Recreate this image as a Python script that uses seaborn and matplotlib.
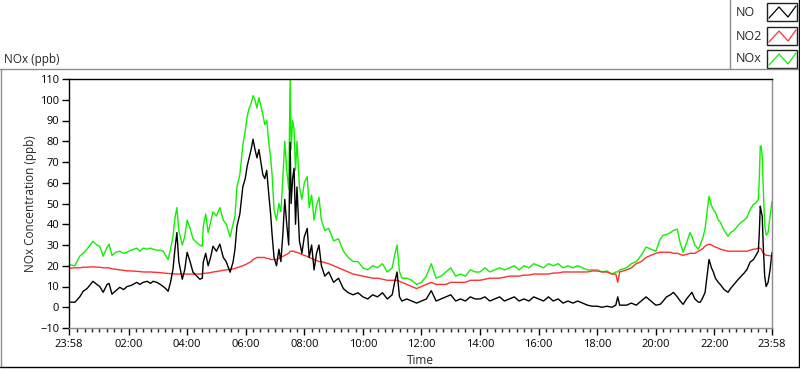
import pandas as pd
import seaborn as sns
import matplotlib.pyplot as plt
import matplotlib.dates as mdates
from matplotlib.lines import Line2D
from matplotlib.patches import Rectangle

# %% data (clock time, ppb) ────────────────────────────────────────────────
times = [
    "23:58", "00:10", "00:20", "00:27", "00:35", "00:47", "00:55",
    "01:01", "01:08", "01:16", "01:20", "01:26", "01:34", "01:42", "01:50", "01:57",
    "02:05", "02:17", "02:23", "02:30", "02:38", "02:45", "02:50", "02:58",
    "03:05", "03:11", "03:16", "03:21", "03:26", "03:31", "03:35", "03:39", "03:43", "03:50", "03:55",
    "04:00", "04:06", "04:12", "04:20", "04:26", "04:31", "04:33", "04:38", "04:43", "04:48", "04:53",
    "05:00", "05:07", "05:14", "05:20", "05:28", "05:34", "05:38", "05:42", "05:48", "05:54", "05:59",
    "06:03", "06:07", "06:11", "06:15", "06:19", "06:23", "06:27", "06:31", "06:35", "06:39", "06:43",
    "06:47", "06:51", "06:54", "06:58",
    "07:03", "07:08", "07:12", "07:16", "07:20", "07:24", "07:28", "07:31", "07:33", "07:36", "07:39",
    "07:42", "07:45", "07:50", "07:55",
    "08:00", "08:06", "08:10", "08:15", "08:20", "08:25", "08:30", "08:35", "08:42", "08:50",
    "09:00", "09:10", "09:20", "09:30", "09:40", "09:50",
    "10:00", "10:10", "10:20", "10:30", "10:40", "10:50",
    "11:00", "11:05", "11:10", "11:15", "11:20", "11:30", "11:40", "11:50",
    "12:00", "12:10", "12:20", "12:30", "12:40", "12:50",
    "13:00", "13:10", "13:20", "13:30", "13:40", "13:50",
    "14:00", "14:10", "14:20", "14:30", "14:40", "14:50",
    "15:00", "15:10", "15:20", "15:30", "15:40", "15:50",
    "16:00", "16:10", "16:20", "16:30", "16:40", "16:50",
    "17:00", "17:10", "17:20", "17:30", "17:40", "17:50",
    "18:00", "18:10", "18:20", "18:30", "18:38", "18:42", "18:46", "18:53",
    "19:00", "19:10", "19:20", "19:30", "19:40", "19:50",
    "20:00", "20:09", "20:15", "20:22", "20:30", "20:36", "20:44", "20:50", "20:56",
    "21:03", "21:10", "21:14", "21:20", "21:27", "21:31", "21:37", "21:41", "21:45", "21:49", "21:54", "21:58",
    "22:02", "22:08", "22:12", "22:20", "22:28", "22:33", "22:40", "22:47", "22:49", "22:55",
    "23:01", "23:07", "23:13", "23:20", "23:24", "23:30", "23:32", "23:34", "23:36", "23:38", "23:40",
    "23:43", "23:46", "23:50", "23:54", "23:58",
]

no = [
    2.5, 2.4, 5.0, 7.7, 9.0, 12.5, 11.0,
    10.0, 7.2, 11.0, 11.5, 6.3, 8.0, 9.6, 8.5, 10.0,
    10.5, 12.0, 11.0, 12.0, 12.5, 11.5, 12.5, 12.0,
    11.0, 10.0, 9.0, 7.7, 12.0, 18.3, 28.0, 36.0, 22.0, 13.5, 18.0,
    26.5, 22.0, 16.9, 15.0, 13.5, 14.0, 21.7, 26.0, 20.0, 24.0, 29.4,
    27.0, 30.4, 24.0, 22.0, 16.9, 21.7, 28.0, 39.0, 45.0, 58.0, 62.0,
    68, 72, 76, 81, 76, 72, 76, 70, 64, 62, 66,
    55, 45, 35, 24,
    20, 28, 22, 35, 52, 40, 30, 79.5, 50, 62, 67,
    40, 58, 32, 26,
    34, 38, 24, 30, 18, 26, 30, 20, 15, 17,
    12, 14, 9, 7, 6, 7,
    5, 4, 6, 5, 7, 4,
    6, 12, 17, 5, 3, 4, 3, 2,
    3, 4, 8, 3, 4, 5,
    6, 3, 4, 3, 5, 4,
    4, 5, 3, 4, 5, 3,
    4, 5, 3, 4, 3, 5,
    4, 3, 5, 3, 4, 2,
    3, 2, 3, 2, 1, 0.5,
    0.5, 0, 0.5, 0, 1, 5, 1, 1,
    1, 2, 1, 3, 5, 3,
    1, 1.4, 3, 5, 6, 7.2, 5, 3, 1.4,
    4, 6, 7.2, 4, 2.5, 2.4, 5, 7.2, 15, 23, 19, 16.9,
    14, 12, 11, 8.5, 7.2, 9, 11, 13, 13.5, 15,
    16.5, 18.3, 21.7, 23, 24.6, 27, 36, 48.7, 46, 43.9, 30,
    15, 10, 12, 18, 26.5,
]

no2 = [
    18.8, 19.0, 19.0, 19.3, 19.3, 19.5, 19.3,
    19.3, 19.0, 19.0, 19.0, 18.5, 18.3, 18.0, 17.8, 17.5,
    17.5, 17.3, 17.2, 17.0, 17.0, 17.0, 16.9, 16.8,
    16.7, 16.5, 16.4, 16.3, 16.2, 16.2, 16.0, 16.0, 16.0, 16.0, 16.0,
    16.0, 16.0, 16.0, 16.0, 16.0, 16.2, 16.3, 16.4, 16.5, 16.7, 17.0,
    17.2, 17.5, 17.8, 18.0, 18.3, 18.5, 18.7, 19.0, 19.5, 20.0, 20.5,
    21.0, 21.5, 22.0, 23.0, 23.5, 24.0, 24.0, 24.0, 24.0, 24.0, 23.5,
    23.5, 23.0, 23.0, 23.0,
    23.0, 23.5, 24.0, 24.5, 25.0, 25.5, 26.0, 27.0, 27.0, 27.0, 27.0,
    26.5, 26.5, 26.0, 25.5,
    25.0, 24.5, 24.0, 23.5, 23.0, 22.5, 22.0, 22.0, 21.5, 21.0,
    20.0, 19.0, 18.0, 17.0, 16.0, 15.5,
    15.0, 14.5, 14.0, 14.0, 13.5, 13.0,
    13.0, 13.0, 13.0, 12.5, 12.0, 11.0, 10.0, 9.0,
    10.0, 11.0, 12.0, 11.0, 11.0, 11.0,
    12.0, 12.0, 12.0, 12.0, 13.0, 13.0,
    13.0, 13.5, 14.0, 14.0, 14.0, 14.5,
    15.0, 15.0, 15.0, 15.5, 15.5, 16.0,
    16.0, 16.0, 16.0, 16.5, 16.5, 17.0,
    17.0, 17.0, 17.0, 17.0, 17.0, 17.5,
    17.5, 17.0, 17.0, 16.0, 16.0, 12.0, 17.0, 17.5,
    18.0, 19.0, 21.0, 22.0, 24.0, 25.0,
    26.0, 26.5, 26.5, 26.5, 26.5, 26.0, 26.0, 25.5, 25.0,
    25.5, 26.0, 26.0, 26.0, 27.0, 27.5, 28.5, 29.5, 30.0, 30.4, 30.0, 29.5,
    29.0, 28.5, 28.0, 27.5, 27.0, 27.0, 27.0, 27.0, 27.0, 27.0,
    27.0, 27.0, 27.5, 28.0, 28.0, 28.5, 28.5, 28.4, 28.0, 27.0, 26.0,
    25.5, 25.0, 25.0, 24.8, 24.6,
]

nox = [
    20.5, 20.0, 24.6, 26.0, 28.0, 31.8, 30.0,
    29.4, 24.6, 29.0, 30.4, 25.0, 26.5, 27.0, 26.0, 26.5,
    27.5, 28.5, 27.0, 28.5, 28.0, 28.5, 28.0, 27.5,
    27.5, 27.0, 25.0, 23.0, 28.0, 34.0, 43.0, 48.0, 37.0, 30.0, 34.0,
    42.0, 38.0, 33.0, 31.0, 30.0, 29.4, 39.0, 45.0, 36.0, 41.0, 46.0,
    44.0, 48.0, 42.0, 40.0, 34.0, 40.0, 44.0, 58.0, 64.0, 78.0, 85.0,
    92, 96, 98, 102, 100, 96, 101, 97, 93, 88, 90,
    80, 72, 64, 47,
    42, 50, 46, 62, 80, 66, 57, 110.5, 76, 90, 86,
    66, 80, 58, 52,
    60, 63, 48, 54, 42, 49, 53, 42, 37, 38,
    32, 33, 27, 24, 22, 22,
    19, 18, 20, 19, 21, 17,
    19, 25, 30, 17, 14, 14, 13, 11,
    12, 15, 21, 14, 15, 17,
    19, 15, 16, 15, 18, 17,
    17, 19, 17, 18, 19, 18,
    19, 20, 18, 20, 19, 21,
    20, 19, 21, 20, 21, 19,
    20, 19, 20, 19, 18, 18,
    18, 17, 17.5, 16, 17, 17, 18, 18.5,
    19, 21, 22, 25, 29, 28,
    27, 32.8, 34.7, 35, 36, 37, 37.6, 31, 26.5,
    31, 36, 34, 30, 28, 30, 34, 38, 46, 53.5, 49, 47,
    45.8, 42, 41, 37, 34.2, 36, 37, 39, 39.5, 41,
    42, 43.4, 47, 49.6, 50, 52, 62, 77.6, 77.6, 72.8, 58,
    40, 34.7, 36, 44, 51,
]

series_names = ["NO", "NO2", "NOx"]
series_colors = {"NO": "#000000", "NO2": "#ff3030", "NOx": "#10f000"}
y_ticks = list(range(-10, 111, 10))
x_tick_labels = ["23:58", "02:00", "04:00", "06:00", "08:00", "10:00", "12:00",
                 "14:00", "16:00", "18:00", "20:00", "22:00", "23:58"]

# %% frame the data ─────────────────────────────────────────────────────────
base = pd.Timestamp("2000-01-01")
stamps = [base + pd.Timedelta(days=0 if i == 0 else 1)
          + pd.Timedelta(hours=int(t[:2]), minutes=int(t[3:]))
          for i, t in enumerate(times)]

df = pd.DataFrame({
    "time": stamps * 3,
    "ppb": no + no2 + nox,
    "series": ["NO"] * len(no) + ["NO2"] * len(no2) + ["NOx"] * len(nox),
})

# %% plot ────────────────────────────────────────────────────────────────────
sns.set_theme(style="ticks")
plt.rcParams["font.family"] = ["Open Sans", "DejaVu Sans"]
W, H = 800, 369

fig = plt.figure(figsize=(W / 100, H / 100), dpi=100)
fig.patch.set_facecolor("white")
ax = fig.add_axes([69 / W, 1 - 328 / H, 703 / W, 249 / H])

sns.lineplot(data=df, x="time", y="ppb", hue="series",
             hue_order=["NOx", "NO2", "NO"], palette=series_colors,
             estimator=None, linewidth=1.0, legend=False, ax=ax)

start, end = stamps[0], stamps[-1]
ax.set_xlim(start, end)
ax.set_ylim(-10, 110)
ax.set_yticks(y_ticks)

day = base + pd.Timedelta(days=1)
major = [start] + [day + pd.Timedelta(hours=2 * k) for k in range(1, 12)] + [end]
minor = [day + pd.Timedelta(minutes=15 * k) for k in range(1, 96) if k % 8]
ax.set_xticks(mdates.date2num(major), x_tick_labels)
ax.set_xticks(mdates.date2num(minor), minor=True)

ax.tick_params(axis="both", labelsize=8, colors="black", width=1, direction="out")
ax.tick_params(axis="x", which="major", length=5, pad=3)
ax.tick_params(axis="x", which="minor", length=3, width=1, bottom=True)
ax.tick_params(axis="y", length=5, pad=2)

for side, col in [("left", "black"), ("top", "black"), ("right", "#8c8c8c"), ("bottom", "#8c8c8c")]:
    ax.spines[side].set_visible(True)
    ax.spines[side].set_color(col)
    ax.spines[side].set_linewidth(1)

ax.set_xlabel("Time", fontsize=8.5, va="center")
ax.xaxis.set_label_coords(0.5, (328 - 361) / 249)
ax.set_ylabel("NOx Concentration (ppb)", fontsize=8.5, va="center")
ax.yaxis.set_label_coords((31 - 69) / 703, 0.5)

# panel title & frame (LabVIEW style)
def px(x, y):
    return x / W, 1 - y / H

fig.text(*px(4, 59), "NOx (ppb)", fontsize=8.5, va="center", ha="left")

frame = [((0, 68.5), (798, 68.5), "#8c8c8c"), ((1, 68.5), (1, 366), "#8c8c8c"),
         ((730, 0), (730, 68.5), "#8c8c8c"), ((798.5, 0), (798.5, 366.5), "black"),
         ((0, 366.5), (799, 366.5), "black")]
for (x0, y0), (x1, y1), col in frame:
    (fx0, fy0), (fx1, fy1) = px(x0, y0), px(x1, y1)
    fig.add_artist(Line2D([fx0, fx1], [fy0, fy1], transform=fig.transFigure,
                          color=col, lw=1))

# legend: name + zigzag swatch box
for name, top in zip(series_names, [3, 27, 50]):
    fig.text(*px(736, top + 9), name, fontsize=9, va="center", ha="left")
    bx, by = px(767, top + 18)
    fig.add_artist(Rectangle((bx, by), 30 / W, 18 / H, transform=fig.transFigure,
                             fill=False, edgecolor="#202020", lw=1))
    zx = [769, 779, 788, 796]
    zy = [top + 15, top + 4, top + 14, top + 3]
    fig.add_artist(Line2D([x / W for x in zx], [1 - y / H for y in zy],
                          transform=fig.transFigure, color=series_colors[name], lw=0.9))

fig.savefig("out.png", dpi=100)
